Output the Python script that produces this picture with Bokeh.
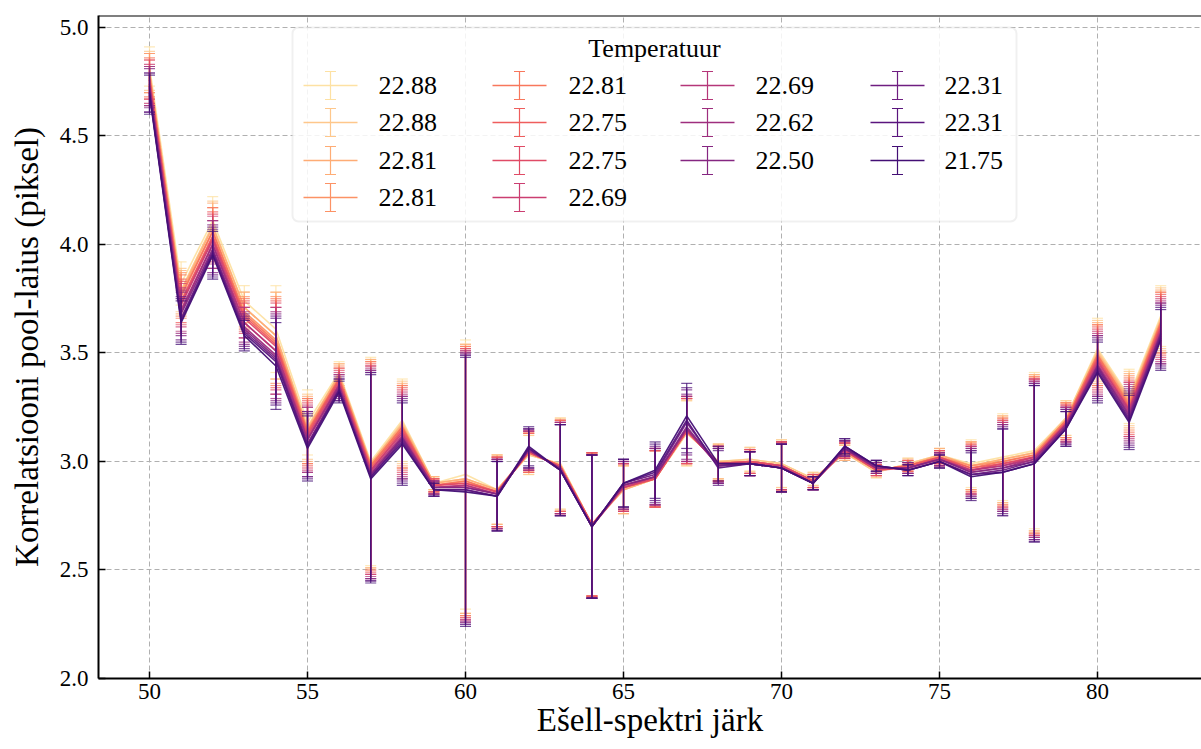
import numpy as np
from bokeh.plotting import figure
from bokeh.models import (ColumnDataSource, Range1d, FixedTicker, PrintfTickFormatter,
                          Span, BoxAnnotation, Label, Arrow, TeeHead)
from bokeh.palettes import Magma256
from bokeh.embed import file_html
from bokeh.resources import INLINE

# ---------------- data ----------------
orders = list(range(50, 83))
temperatures = ["22.88", "22.88", "22.81", "22.81", "22.81", "22.75", "22.75",
                "22.69", "22.69", "22.62", "22.50", "22.31", "22.31", "21.75"]
err = [0.09, 0.10, 0.11, 0.07, 0.20, 0.15, 0.05, 0.48, 0.19, 0.03, 0.62, 0.16, 0.09,
       0.21, 0.33, 0.11, 0.13, 0.15, 0.08, 0.055, 0.11, 0.03, 0.035, 0.025, 0.025,
       0.03, 0.11, 0.20, 0.36, 0.08, 0.14, 0.125, 0.14]

fwhm_01 = [4.82, 3.82, 4.11, 3.74, 3.61, 3.18, 3.41, 3.00, 3.19, 2.90, 2.94, 2.87, 3.03, 2.99, 2.71, 2.87, 2.92, 3.13, 3.00, 3.01, 2.99, 2.92, 3.04, 2.95, 2.99, 3.03, 2.99, 3.02, 3.05, 3.20, 3.52, 3.30, 3.67]
fwhm_02 = [4.80, 3.79, 4.09, 3.71, 3.58, 3.16, 3.40, 2.99, 3.18, 2.90, 2.92, 2.87, 3.03, 2.99, 2.71, 2.87, 2.92, 3.13, 3.00, 3.01, 2.99, 2.92, 3.04, 2.95, 2.99, 3.03, 2.98, 3.01, 3.04, 3.20, 3.51, 3.29, 3.66]
fwhm_03 = [4.79, 3.78, 4.08, 3.71, 3.58, 3.15, 3.40, 2.99, 3.17, 2.90, 2.92, 2.87, 3.04, 2.98, 2.71, 2.87, 2.92, 3.14, 3.00, 3.00, 2.98, 2.91, 3.04, 2.96, 2.98, 3.03, 2.98, 3.01, 3.04, 3.19, 3.50, 3.28, 3.65]
fwhm_04 = [4.79, 3.77, 4.06, 3.69, 3.56, 3.14, 3.39, 2.98, 3.16, 2.89, 2.91, 2.86, 3.04, 2.98, 2.71, 2.88, 2.92, 3.14, 2.99, 3.00, 2.98, 2.91, 3.05, 2.96, 2.98, 3.02, 2.98, 3.00, 3.03, 3.19, 3.49, 3.27, 3.64]
fwhm_05 = [4.77, 3.76, 4.06, 3.68, 3.55, 3.14, 3.38, 2.98, 3.16, 2.89, 2.91, 2.86, 3.04, 2.98, 2.71, 2.88, 2.92, 3.14, 2.99, 3.00, 2.98, 2.91, 3.05, 2.96, 2.98, 3.02, 2.97, 3.00, 3.03, 3.19, 3.49, 3.26, 3.64]
fwhm_06 = [4.76, 3.74, 4.04, 3.67, 3.54, 3.13, 3.38, 2.97, 3.15, 2.89, 2.90, 2.86, 3.04, 2.98, 2.71, 2.88, 2.92, 3.14, 2.99, 3.00, 2.98, 2.91, 3.05, 2.96, 2.98, 3.02, 2.97, 2.99, 3.02, 3.18, 3.48, 3.25, 3.63]
fwhm_07 = [4.76, 3.73, 4.03, 3.66, 3.53, 3.12, 3.37, 2.96, 3.14, 2.89, 2.90, 2.86, 3.05, 2.97, 2.71, 2.88, 2.92, 3.14, 2.99, 3.00, 2.98, 2.91, 3.05, 2.96, 2.97, 3.02, 2.96, 2.99, 3.02, 3.18, 3.47, 3.24, 3.62]
fwhm_08 = [4.74, 3.72, 4.02, 3.64, 3.51, 3.11, 3.36, 2.96, 3.13, 2.88, 2.89, 2.85, 3.05, 2.97, 2.70, 2.88, 2.93, 3.15, 2.99, 2.99, 2.98, 2.90, 3.05, 2.97, 2.97, 3.01, 2.96, 2.98, 3.02, 3.17, 3.46, 3.24, 3.61]
fwhm_09 = [4.73, 3.70, 4.00, 3.64, 3.51, 3.10, 3.35, 2.95, 3.12, 2.88, 2.89, 2.85, 3.05, 2.97, 2.70, 2.89, 2.93, 3.15, 2.98, 2.99, 2.97, 2.90, 3.06, 2.97, 2.97, 3.01, 2.96, 2.98, 3.01, 3.17, 3.45, 3.23, 3.60]
fwhm_10 = [4.73, 3.69, 4.00, 3.62, 3.49, 3.10, 3.35, 2.94, 3.11, 2.88, 2.88, 2.85, 3.05, 2.97, 2.70, 2.89, 2.93, 3.15, 2.98, 2.99, 2.97, 2.90, 3.06, 2.97, 2.97, 3.01, 2.95, 2.97, 3.01, 3.17, 3.44, 3.22, 3.59]
fwhm_11 = [4.72, 3.68, 3.98, 3.61, 3.48, 3.08, 3.34, 2.94, 3.11, 2.88, 2.88, 2.85, 3.06, 2.96, 2.70, 2.89, 2.93, 3.16, 2.98, 2.99, 2.97, 2.90, 3.06, 2.97, 2.97, 3.01, 2.95, 2.97, 3.00, 3.16, 3.44, 3.21, 3.59]
fwhm_12 = [4.70, 3.66, 3.97, 3.60, 3.47, 3.08, 3.33, 2.93, 3.10, 2.87, 2.87, 2.84, 3.06, 2.96, 2.70, 2.90, 2.94, 3.18, 2.98, 2.99, 2.97, 2.90, 3.06, 2.98, 2.96, 3.00, 2.94, 2.96, 3.00, 3.16, 3.43, 3.20, 3.58]
fwhm_13 = [4.70, 3.65, 3.96, 3.59, 3.46, 3.07, 3.33, 2.93, 3.09, 2.87, 2.87, 2.84, 3.06, 2.96, 2.70, 2.90, 2.95, 3.19, 2.97, 2.99, 2.97, 2.90, 3.07, 2.98, 2.96, 3.00, 2.94, 2.95, 2.99, 3.15, 3.42, 3.19, 3.57]
fwhm_14 = [4.69, 3.64, 3.95, 3.58, 3.44, 3.06, 3.32, 2.92, 3.08, 2.87, 2.86, 2.84, 3.07, 2.96, 2.70, 2.90, 2.96, 3.21, 2.99, 2.99, 2.97, 2.90, 3.07, 2.98, 2.96, 3.00, 2.93, 2.95, 2.99, 3.15, 3.41, 3.18, 3.56]

series = [fwhm_01, fwhm_02, fwhm_03, fwhm_04, fwhm_05, fwhm_06, fwhm_07,
          fwhm_08, fwhm_09, fwhm_10, fwhm_11, fwhm_12, fwhm_13, fwhm_14]

x_ticks = [50, 55, 60, 65, 70, 75, 80]
y_ticks = [2.0, 2.5, 3.0, 3.5, 4.0, 4.5, 5.0]

# ---------------- style ----------------
FONT = "Liberation Serif"
colors = [Magma256[int(round(v * 255))] for v in np.linspace(0.94, 0.22, len(series))]

y_top = 5.055
p = figure(width=1201, height=749,
           x_range=Range1d(48.386, 83.29), y_range=Range1d(2.0, y_top),
           output_backend="svg", toolbar_location=None,
           min_border_left=98, min_border_right=0, min_border_top=15, min_border_bottom=71,
           x_axis_label="Ešell-spektri järk",
           y_axis_label="Korrelatsiooni pool-laius (piksel)")
p.outline_line_color = None
p.background_fill_color = "white"
p.border_fill_color = "white"

p.xaxis.ticker = FixedTicker(ticks=x_ticks)
p.yaxis.ticker = FixedTicker(ticks=y_ticks)
p.yaxis.formatter = PrintfTickFormatter(format="%.1f")

for ax in (p.xaxis[0], p.yaxis[0]):
    ax.axis_line_width = 2
    ax.axis_line_color = "black"
    ax.major_tick_in = 7
    ax.major_tick_out = 0
    ax.major_tick_line_width = 1.5
    ax.major_tick_line_color = "black"
    ax.minor_tick_line_color = None
    ax.major_label_text_font = FONT
    ax.major_label_text_font_size = "23px"
    ax.major_label_text_color = "black"
    ax.axis_label_text_font = FONT
    ax.axis_label_text_font_size = "33px"
    ax.axis_label_text_font_style = "normal"
    ax.axis_label_text_color = "black"

p.xaxis.major_label_standoff = 5
p.xaxis.axis_label_standoff = 0
p.yaxis.major_label_standoff = 10
p.yaxis.axis_label_standoff = 12

p.grid.grid_line_color = "#b0b0b0"
p.grid.grid_line_dash = "5 3"
p.grid.grid_line_width = 1

p.add_layout(Span(location=y_top, dimension="width", line_color="black", line_width=2))

# ---------------- data glyphs ----------------
for vals, c in zip(series, colors):
    src = ColumnDataSource(dict(
        x=orders, y=vals,
        lo=[v - e for v, e in zip(vals, err)],
        hi=[v + e for v, e in zip(vals, err)],
    ))
    p.line("x", "y", source=src, line_color=c, line_width=1.6, line_alpha=0.95)
    p.segment(x0="x", y0="lo", x1="x", y1="hi", source=src,
              line_color=c, line_width=1.2, line_alpha=0.8)
    p.scatter("x", "hi", source=src, marker="dash", size=11,
              line_color=c, line_width=1.2, line_alpha=0.75)
    p.scatter("x", "lo", source=src, marker="dash", size=11,
              line_color=c, line_width=1.2, line_alpha=0.75)

# ---------------- legend (screen units, relative to frame) ----------------
p.add_layout(BoxAnnotation(left=194, right=918, bottom=457, top=651,
                           left_units="screen", right_units="screen",
                           top_units="screen", bottom_units="screen",
                           fill_color="white", fill_alpha=0.85,
                           line_color="#cccccc", line_width=2, border_radius=6))
p.add_layout(Label(x=556, y=630, x_units="screen", y_units="screen",
                   text="Temperatuur", text_align="center", text_baseline="middle",
                   text_font=FONT, text_font_size="26px", text_color="black"))

glyph_left = [205, 394, 582, 772]
text_left = [280, 470, 657, 846]
row_y = [593, 556, 518, 481]
slot_col = [0, 0, 0, 0, 1, 1, 1, 1, 2, 2, 2, 3, 3, 3]
slot_row = [0, 1, 2, 3, 0, 1, 2, 3, 0, 1, 2, 0, 1, 2]

for t, c, ci, ri in zip(temperatures, colors, slot_col, slot_row):
    gx = glyph_left[ci]
    gy = row_y[ri]
    p.add_layout(Arrow(x_start=gx, y_start=gy, x_end=gx + 54, y_end=gy,
                       start_units="screen", end_units="screen",
                       start=None, end=None, line_color=c, line_width=1.6))
    p.add_layout(Arrow(x_start=gx + 27, y_start=gy - 14, x_end=gx + 27, y_end=gy + 14,
                       start_units="screen", end_units="screen",
                       start=TeeHead(size=11, line_color=c, line_width=1.2),
                       end=TeeHead(size=11, line_color=c, line_width=1.2),
                       line_color=c, line_width=1.2))
    p.add_layout(Label(x=text_left[ci], y=gy, x_units="screen", y_units="screen",
                       text=t, text_align="left", text_baseline="middle",
                       text_font=FONT, text_font_size="26px", text_color="black"))

open("out.html", "w").write(file_html(p, INLINE))
